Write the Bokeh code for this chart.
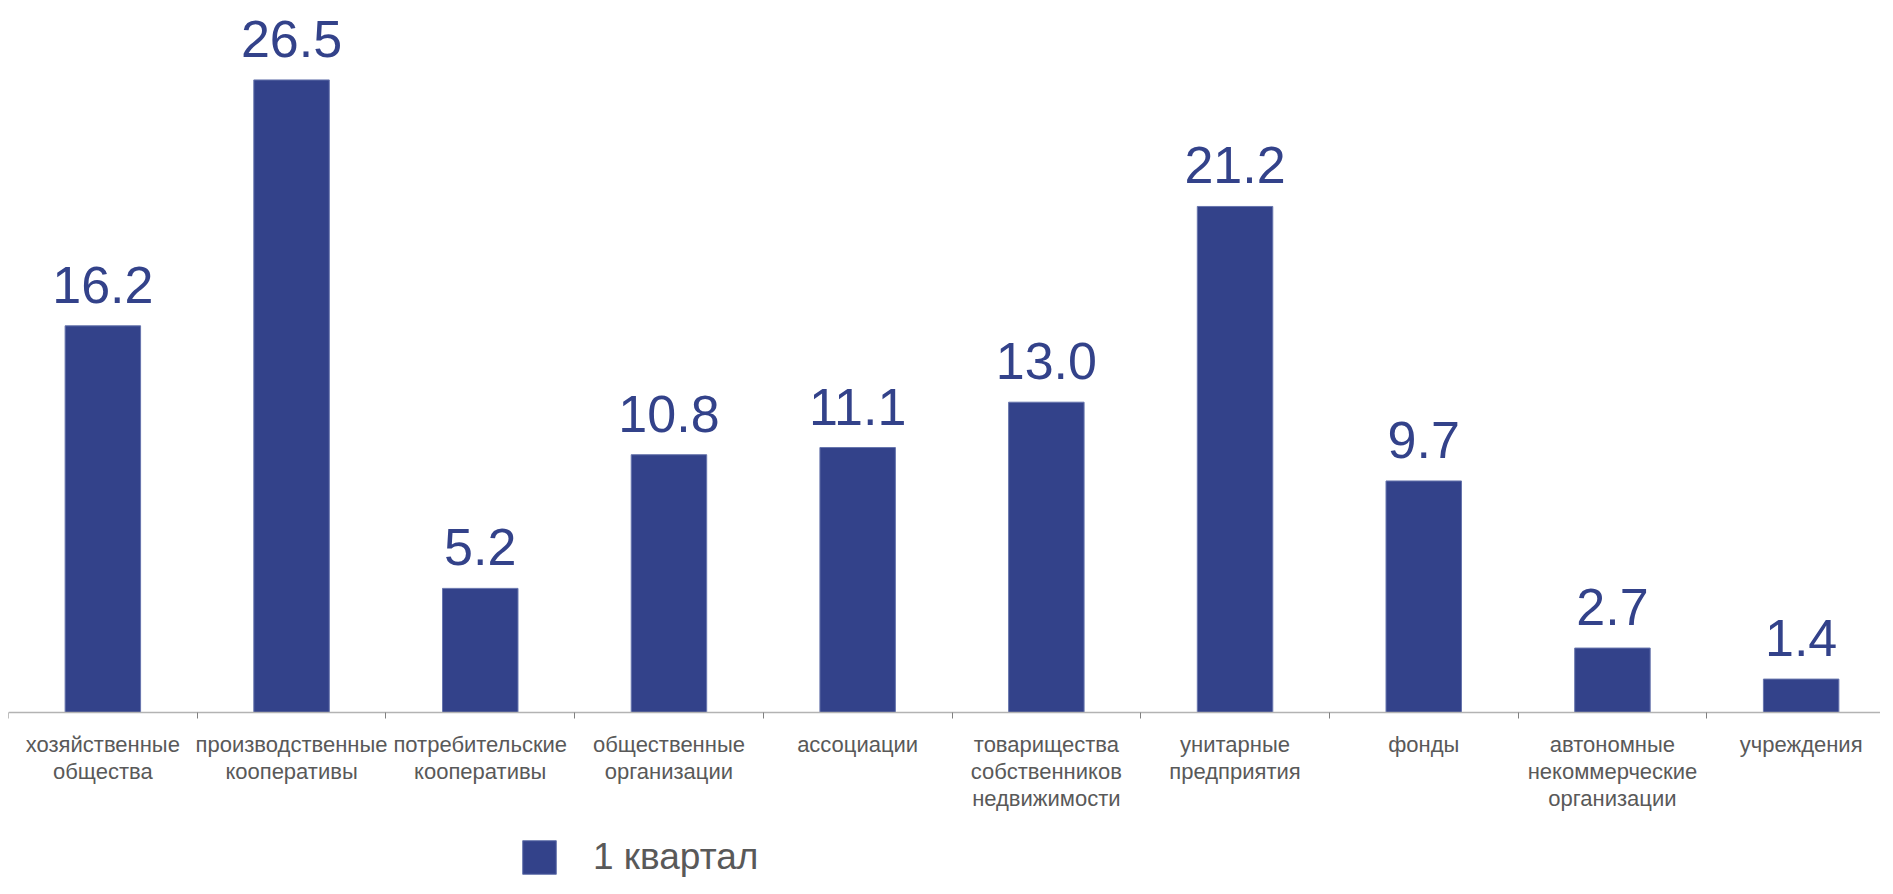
from bokeh.plotting import figure
from bokeh.models import Range1d, FixedTicker, ColumnDataSource, LabelSet, Legend, LegendItem
from bokeh.core.properties import value
from bokeh.embed import file_html
from bokeh.resources import INLINE

categories = [
    "хозяйственные\nобщества",
    "производственные\nкооперативы",
    "потребительские\nкооперативы",
    "общественные\nорганизации",
    "ассоциации",
    "товарищества\nсобственников\nнедвижимости",
    "унитарные\nпредприятия",
    "фонды",
    "автономные\nнекоммерческие\nорганизации",
    "учреждения",
]
values = [16.2, 26.5, 5.2, 10.8, 11.1, 13.0, 21.2, 9.7, 2.7, 1.4]
value_labels = [f"{v:.1f}" for v in values]
series_name = "1 квартал"

BAR = "#33428A"
GRAY = "#595959"
FONT = "Liberation Sans"

positions = list(range(len(categories)))
source = ColumnDataSource(dict(x=positions, top=values, label=value_labels))

W, H = 1880, 878
left_border = 8
cat_px = 188.7
frame_w = W - left_border
axis_y_px = 712          # distance of the zero line from the top of the canvas
px_per_unit = 23.87

p = figure(
    width=W, height=H, output_backend="svg", toolbar_location=None,
    x_range=Range1d(-0.5, -0.5 + frame_w / cat_px),
    y_range=Range1d(-(H - axis_y_px) / px_per_unit, axis_y_px / px_per_unit),
    min_border_left=left_border, min_border_right=0, min_border_top=0,
    min_border_bottom=0,
)
p.outline_line_color = None
p.grid.visible = False
p.yaxis.visible = False
p.background_fill_color = "white"
p.border_fill_color = "white"

bars = p.vbar(x="x", top="top", bottom=0, width=0.4, source=source,
              fill_color=BAR, line_color="#6775ad", line_width=1)

labels = LabelSet(x="x", y="top", text="label", source=source,
                  text_align="center", text_baseline="alphabetic", y_offset=23,
                  text_font=value(FONT), text_font_size="52px", text_color=BAR)
p.add_layout(labels)

ax = p.xaxis[0]
ax.fixed_location = 0
ax.ticker = FixedTicker(ticks=positions,
                        minor_ticks=[i - 0.5 for i in range(len(categories) + 1)])
ax.major_label_overrides = {i: c for i, c in zip(positions, categories)}
ax.major_tick_out = 0
ax.major_tick_in = 0
ax.minor_tick_out = 6
ax.minor_tick_in = 0
ax.minor_tick_line_color = "#808080"
ax.axis_line_color = "#b3b3b3"
ax.axis_line_width = 1.5
ax.major_label_text_font = FONT
ax.major_label_text_font_size = "22px"
ax.major_label_text_color = GRAY
ax.major_label_text_line_height = 1.09
ax.major_label_standoff = 13

legend = Legend(items=[LegendItem(label=series_name, renderers=[bars])],
                location=(510, 0))
legend.glyph_width = 42
legend.glyph_height = 42
legend.padding = 0
legend.margin = 0
legend.border_line_color = None
legend.background_fill_alpha = 0
legend.label_text_font = FONT
legend.label_text_font_size = "37px"
legend.label_text_color = GRAY
legend.label_standoff = 33
legend.label_height = 42
p.add_layout(legend)

open("out.html", "w").write(file_html(p, INLINE))
